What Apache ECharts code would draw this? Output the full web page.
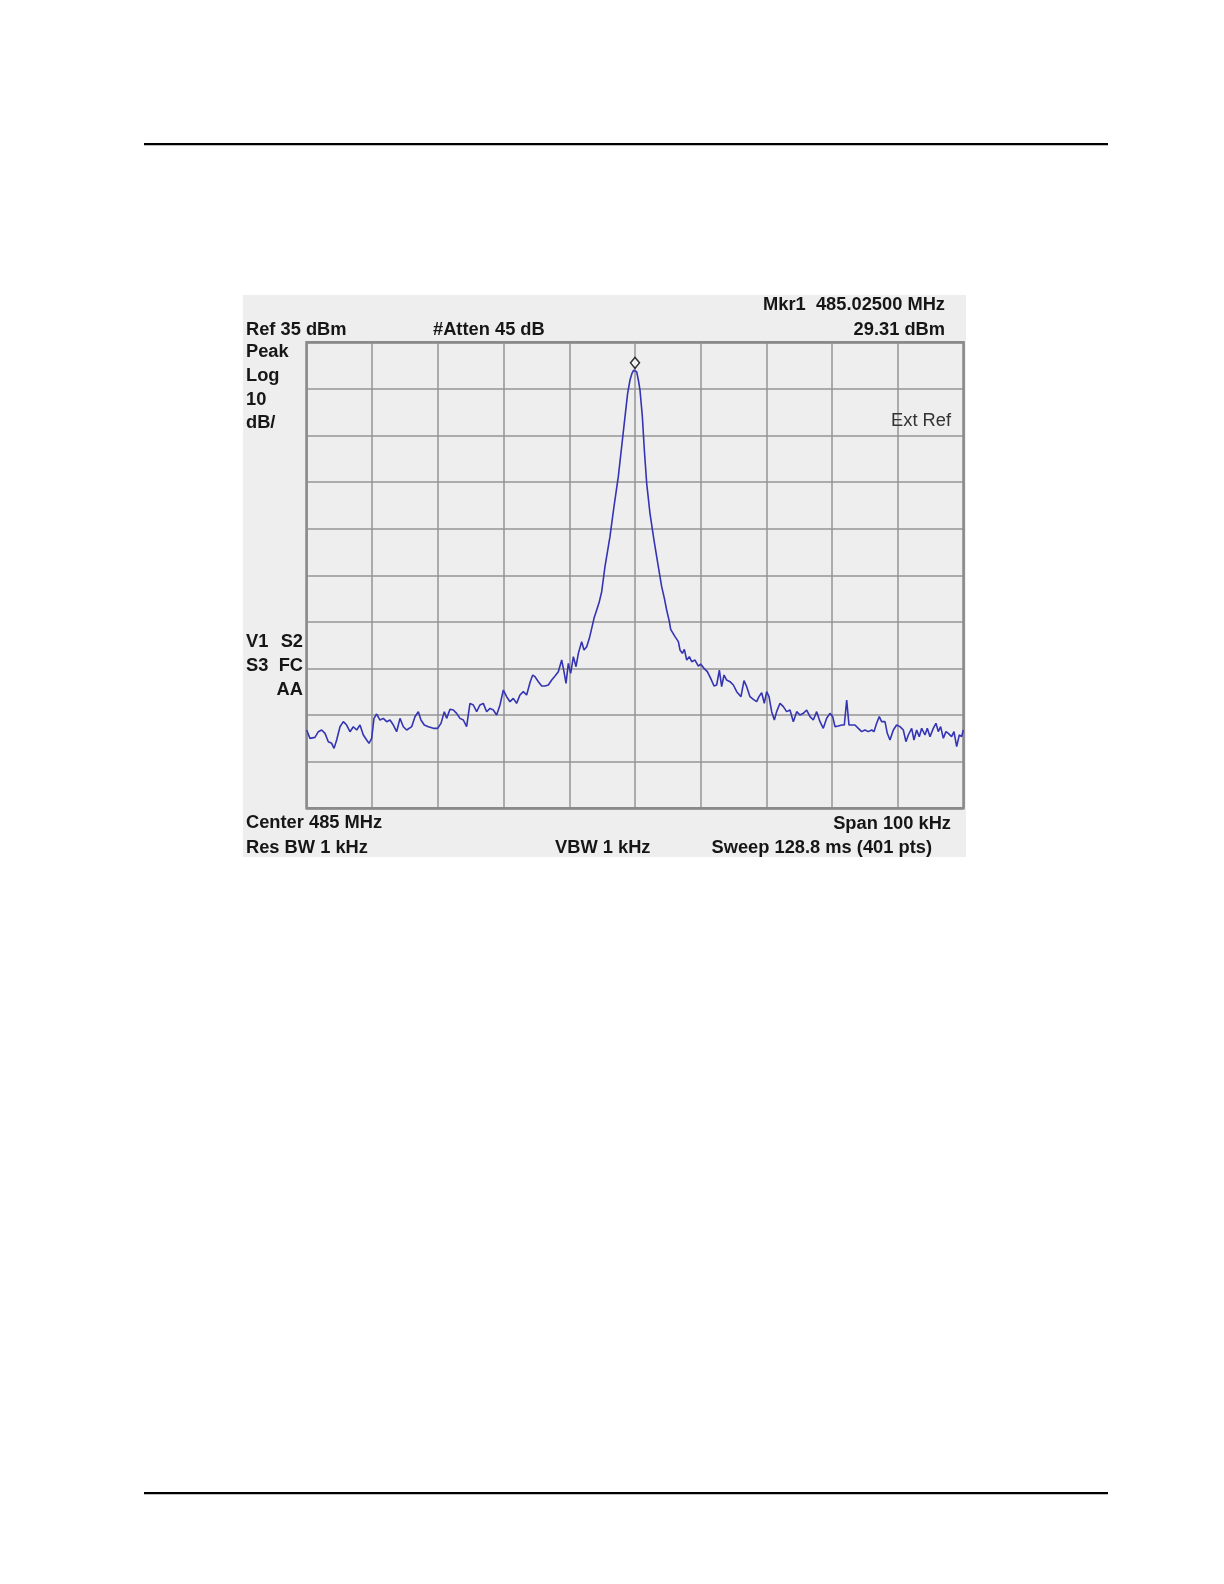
<!DOCTYPE html>
<html>
<head>
<meta charset="utf-8">
<script src="https://cdn.jsdelivr.net/npm/echarts@6/dist/echarts.min.js"></script>
<style>
html,body{margin:0;padding:0;background:#ffffff;}
#chart{width:1224px;height:1584px;}
</style>
</head>
<body>
<div id="chart"></div>
<script>
// Frequency offset from center 485 MHz, in kHz
const freqKHz = [
-49.98,-49.47,-48.71,-48.20,-47.69,-47.18,-46.68,-46.17,-45.81,-45.41,-44.90,-44.39,-43.89,-43.38,-42.87,-42.36,-41.86,-41.35,-40.84,-40.49,-40.08,-39.73,-39.32,-38.81,-38.31,-37.80,-37.29,-36.78,-36.28,-35.77,-35.26,-34.75,-33.99,-33.49,-32.98,
-32.58,-32.07,-31.46,-30.70,-30.04,-29.53,-29.02,-28.67,-28.16,-27.65,-27.15,-26.64,-26.13,-25.63,-25.12,-24.61,-24.10,-23.60,-23.09,-22.58,-22.07,-21.57,-21.06,-20.55,-20.04,-19.54,-19.03,-18.52,-18.02,-17.51,-17.00,-16.49,
-15.98,-15.57,-15.22,-14.71,-14.20,-13.70,-13.19,-12.68,-12.17,-11.67,-11.16,-10.81,-10.50,-10.15,-9.79,-9.38,-8.98,-8.62,-8.12,-7.76,-7.35,-6.95,-6.59,-6.24,-5.83,-5.43,-5.07,
-4.57,-3.81,-3.20,-2.54,-2.03,-1.52,-1.12,-0.76,-0.46,-0.20,0.00,0.25,0.51,0.76,1.12,1.42,1.78,2.28,2.89,3.55,
4.06,4.47,4.82,5.23,5.43,6.09,6.60,6.85,7.21,7.51,7.87,8.27,8.63,9.13,9.64,9.99,10.50,11.01,11.52,12.03,12.43,12.84,13.19,13.55,13.95,14.46,14.97,15.48,
16.13,16.59,17.00,17.50,18.01,18.52,18.87,19.28,19.68,20.04,20.40,20.80,21.21,21.56,22.07,22.58,23.08,23.59,24.10,24.61,25.11,25.62,26.13,26.64,27.14,27.65,28.16,28.66,29.17,29.68,30.09,30.44,30.95,31.46,31.86,32.22,32.57,
32.97,33.48,33.99,34.50,35.00,35.51,36.02,36.37,36.78,37.18,37.54,38.05,38.40,38.81,39.32,39.82,40.33,40.84,41.24,41.60,42.11,42.46,42.87,43.27,43.63,44.14,44.49,44.90,45.40,45.81,46.16,46.52,46.93,47.33,47.69,48.19,48.55,48.96,49.36,49.72,49.97
];
// Trace level, dBm
const levelDbm = [
-48.20,-49.99,-49.78,-48.56,-48.20,-48.92,-50.71,-51.06,-52.14,-50.35,-47.49,-46.41,-47.13,-48.56,-47.49,-48.20,-47.13,-49.27,-50.35,-51.06,-49.99,-45.70,-44.77,-46.06,-45.70,-46.41,-46.06,-47.13,-48.56,-45.70,-47.49,-48.20,-47.49,-45.34,-44.27,
-46.05,-47.13,-47.48,-47.84,-47.84,-46.77,-44.27,-45.70,-43.76,-43.91,-44.62,-45.70,-46.05,-47.48,-42.48,-42.83,-44.27,-42.83,-42.48,-44.27,-43.55,-43.91,-44.98,-42.83,-39.62,-41.05,-42.12,-41.40,-42.48,-40.69,-39.97,-40.69,
-38.00,-36.40,-36.76,-37.83,-38.76,-38.76,-38.54,-37.47,-36.61,-35.68,-33.18,-35.68,-38.19,-33.90,-36.04,-32.46,-34.61,-31.75,-29.24,-31.03,-30.32,-28.53,-26.38,-24.24,-22.45,-20.66,-18.52,
-13.15,-6.71,-0.28,6.16,12.60,19.04,24.04,26.91,28.34,29.00,29.31,28.70,26.91,24.76,19.04,11.88,4.73,-1.71,-7.43,-13.15,
-17.44,-19.95,-22.45,-24.95,-26.60,-28.17,-29.24,-31.03,-31.75,-30.89,-33.18,-32.46,-33.54,-33.18,-34.47,-34.04,-34.97,-35.68,-37.11,-38.76,-38.54,-35.33,-38.90,-36.40,-37.47,-37.83,-38.54,-39.97,
-41.04,-37.61,-38.90,-41.04,-41.62,-42.12,-41.04,-40.19,-42.47,-39.97,-41.04,-44.26,-46.05,-44.26,-42.47,-43.19,-44.26,-43.91,-46.41,-44.26,-44.98,-44.62,-43.91,-45.34,-46.05,-44.26,-46.41,-47.84,-45.69,-44.62,-45.34,-47.48,-47.34,-47.12,-47.12,-41.76,-47.12,
-47.12,-47.12,-47.84,-48.55,-48.20,-48.55,-48.20,-48.55,-46.76,-45.33,-46.41,-46.41,-48.91,-50.34,-48.20,-47.12,-47.48,-48.20,-50.70,-49.27,-47.84,-50.34,-48.20,-49.63,-47.84,-49.27,-47.84,-49.63,-47.84,-46.76,-48.55,-47.48,-49.98,-48.55,-48.91,-49.63,-48.55,-51.77,-49.27,-49.63,-48.20
];
const markerFreq = [0];
const markerLevel = [29.31];
const refLevel = 35, dbPerDiv = 10, divisions = 10;
const spanKHz = 100;

const trace = freqKHz.map((f, i) => [f, levelDbm[i]]);
const marker = markerFreq.map((f, i) => [f, markerLevel[i]]);

const FONT = '"Liberation Sans", Arial, sans-serif';
function txt(x, y, s, opts) {
  opts = opts || {};
  return {
    type: 'text', x: x, y: y, z: 20,
    style: {
      text: s, fill: opts.fill || '#161616', font: (opts.weight || 'bold') + ' ' + (opts.size || 18.3) + 'px ' + FONT,
      textAlign: opts.align || 'left', textVerticalAlign: 'middle'
    }
  };
}

const chart = echarts.init(document.getElementById('chart'), null, {renderer: 'canvas'});
chart.setOption({
  animation: false,
  backgroundColor: '#ffffff',
  grid: {
    left: 306.5, top: 342.3, width: 657, height: 466,
    show: true, backgroundColor: 'transparent', borderColor: '#8a8a8a', borderWidth: 2.5, z: 5
  },
  xAxis: {
    type: 'value', min: -spanKHz / 2, max: spanKHz / 2, interval: spanKHz / divisions,
    axisLine: {show: false}, axisTick: {show: false}, axisLabel: {show: false},
    splitLine: {show: true, lineStyle: {color: '#959595', width: 1.5}}
  },
  yAxis: [
    {
      type: 'value', min: refLevel - dbPerDiv * divisions, max: refLevel,
      axisLine: {show: false}, axisTick: {show: false}, axisLabel: {show: false},
      splitLine: {show: false}
    },
    {
      type: 'value', min: 0, max: divisions, interval: 1,
      axisLine: {show: false}, axisTick: {show: false}, axisLabel: {show: false},
      splitLine: {show: true, lineStyle: {color: '#959595', width: 1.5}}
    }
  ],
  graphic: [
    {type: 'rect', shape: {x: 243, y: 295, width: 723, height: 562}, style: {fill: '#eeeeee'}, z: -10, silent: true},
    {type: 'rect', shape: {x: 144, y: 143, width: 964, height: 2.2}, style: {fill: '#000'}, z: 0},
    {type: 'rect', shape: {x: 144, y: 1492, width: 964, height: 2.2}, style: {fill: '#000'}, z: 0},
    txt(246, 330, 'Ref 35 dBm'),
    txt(433, 330, '#Atten 45 dB'),
    txt(945, 305, 'Mkr1  485.02500 MHz', {align: 'right'}),
    txt(945, 330, '29.31 dBm', {align: 'right'}),
    txt(246, 352, 'Peak'),
    txt(246, 376, 'Log'),
    txt(246, 400, '10'),
    txt(246, 423, 'dB/'),
    txt(951, 421, 'Ext Ref', {weight: 'normal', fill: '#333', align: 'right'}),
    txt(246, 642, 'V1'),
    txt(303, 642, 'S2', {align: 'right'}),
    txt(246, 666, 'S3'),
    txt(303, 666, 'FC', {align: 'right'}),
    txt(303, 690, 'AA', {align: 'right'}),
    txt(246, 823, 'Center 485 MHz'),
    txt(246, 848, 'Res BW 1 kHz'),
    txt(555, 848, 'VBW 1 kHz'),
    txt(951, 824, 'Span 100 kHz', {align: 'right'}),
    txt(932, 848, 'Sweep 128.8 ms (401 pts)', {align: 'right'})
  ],
  series: [
    {
      type: 'line', data: trace, yAxisIndex: 0, symbol: 'none', z: 10,
      lineStyle: {color: '#3434b4', width: 1.6}
    },
    {
      type: 'scatter', data: marker, yAxisIndex: 0, symbol: 'diamond', symbolSize: [9, 11],
      symbolOffset: [0, -6], z: 12,
      itemStyle: {color: '#ffffff', borderColor: '#000000', borderWidth: 1.5}
    }
  ]
});
</script>
</body>
</html>
